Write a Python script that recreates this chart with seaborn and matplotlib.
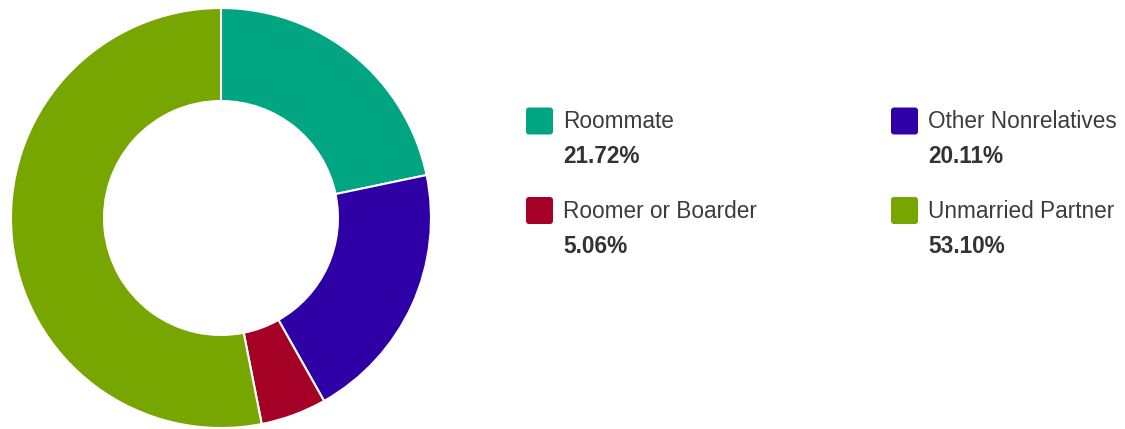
import matplotlib
matplotlib.use("Agg")
import matplotlib.pyplot as plt
from matplotlib.patches import FancyBboxPatch
from matplotlib.transforms import IdentityTransform
import seaborn as sns

categories = ["Roommate", "Other Nonrelatives", "Roomer or Boarder", "Unmarried Partner"]
shares = [21.72, 20.11, 5.06, 53.10]
colors = ["#02A582", "#2E00A5", "#A50026", "#78A600"]

sns.set_theme(style="white")
plt.rcParams["font.family"] = ["Liberation Sans", "DejaVu Sans"]

W, H = 1125, 429
fig = plt.figure(figsize=(W / 100, H / 100), dpi=100)

# donut box in pixels: x 11..431, y 8..428
ax = fig.add_axes([11 / W, 1 / H, 420 / W, 420 / H])
ax.pie(shares, colors=colors, startangle=90, counterclock=False,
       radius=1, wedgeprops=dict(width=0.443, edgecolor="white", linewidth=1.5))
ax.set_xlim(-1.0, 1.0)
ax.set_ylim(-1.0, 1.0)
ax.set_aspect("equal")
ax.axis("off")

# legend, two columns: (square left x, square top y) in pixels from top-left
layout = {0: (526, 107.5), 2: (526, 197), 1: (891, 107.5), 3: (891, 197)}
size, pad = 27, 2
for i, (x, top) in layout.items():
    box = FancyBboxPatch((x + pad, H - top - size + pad), size - 2 * pad, size - 2 * pad,
                         boxstyle=f"round,pad={pad},rounding_size=3",
                         transform=IdentityTransform(), facecolor=colors[i],
                         edgecolor="none")
    fig.patches.append(box)
    fig.text((x + 37) / W, 1 - (top + 20.5) / H, categories[i], fontsize=16.3,
             color="#3c3c3c", va="baseline", ha="left")
    fig.text((x + 37) / W, 1 - (top + 56) / H, f"{shares[i]:.2f}%", fontsize=16.3,
             fontweight="bold", color="#333333", va="baseline", ha="left")

fig.savefig("out.png", dpi=100, facecolor="white")
